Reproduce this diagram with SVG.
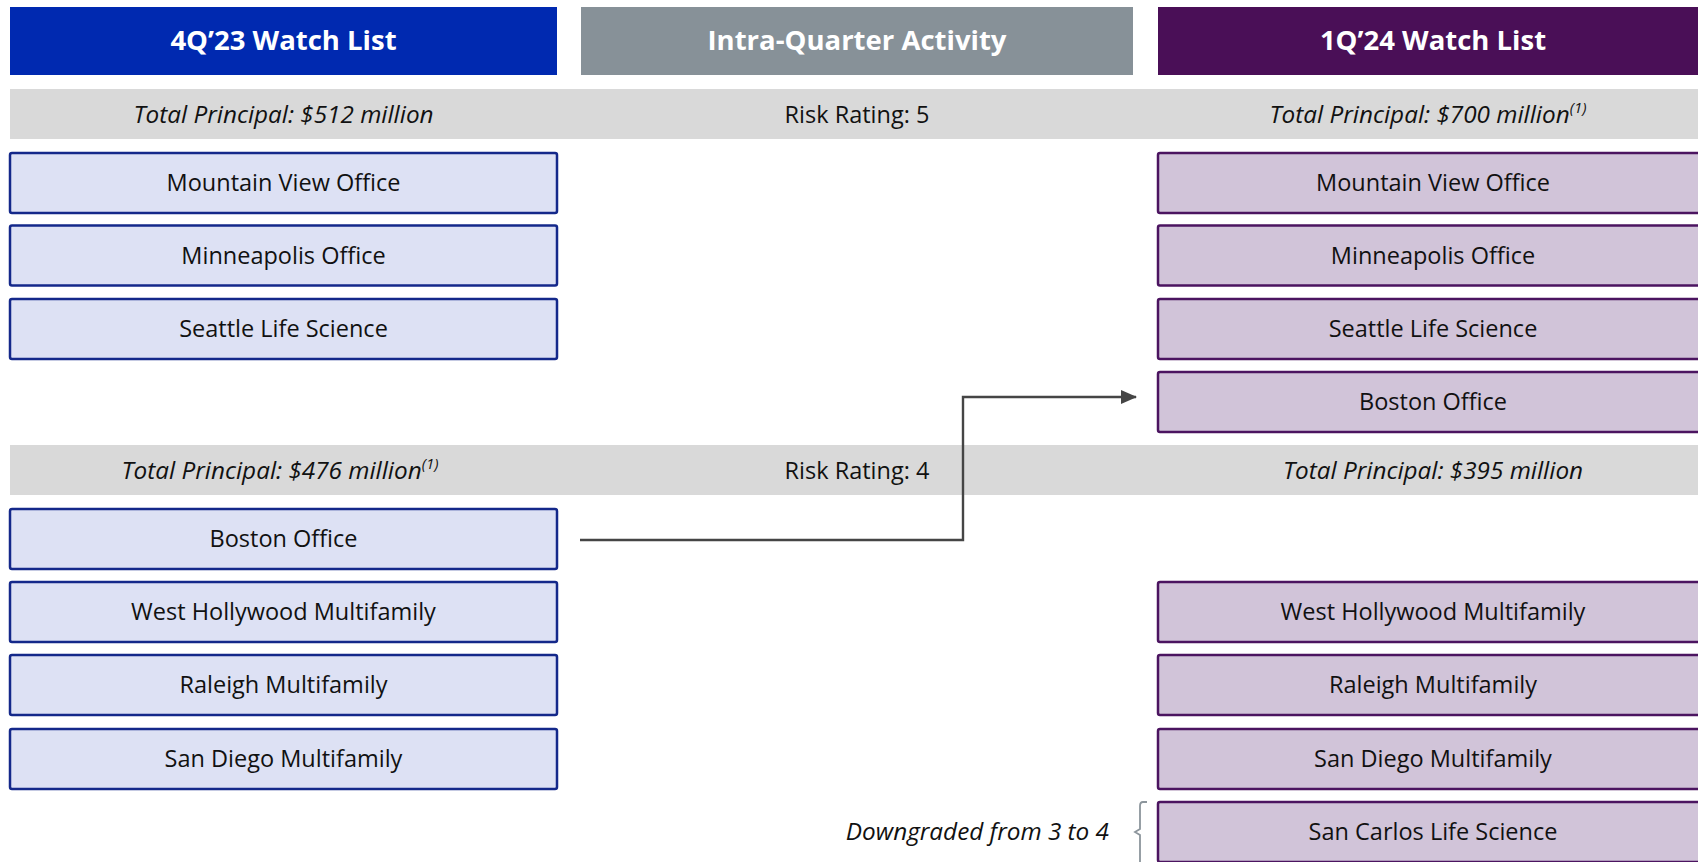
<svg xmlns="http://www.w3.org/2000/svg" width="1698" height="862" viewBox="0 0 1698 862">
<style>
.hdr{font-family:"Open Sans","Liberation Sans",sans-serif;font-weight:bold;font-size:27.5px;fill:#ffffff;text-anchor:middle}
.band{fill:#d9d9d9}
.bt{font-family:"Open Sans","Liberation Sans",sans-serif;font-size:23.5px;fill:#111;text-anchor:middle}
.it{font-style:italic;font-size:24.3px}
.sup{font-size:15px}
.lb{fill:#dde1f4;stroke:#14288a;stroke-width:2.5}
.rb{fill:#d1c4d9;stroke:#4b1460;stroke-width:2.5}
.conn{fill:none;stroke:#454545;stroke-width:2.4}
</style>
<defs>
<marker id="arr" markerWidth="16" markerHeight="14" refX="15" refY="7" orient="auto" markerUnits="userSpaceOnUse" viewBox="0 0 16 14">
<path d="M0,0 L16,7 L0,14 z" fill="#454545"/>
</marker>
</defs>
<rect width="1698" height="862" fill="#ffffff"/>
<g id="header-4q23"><rect x="10" y="7" width="547" height="68" fill="#0029b0"/><text class="hdr" x="283.5" y="50">4Q’23 Watch List</text></g>
<g id="header-intra"><rect x="581" y="7" width="552" height="68" fill="#879198"/><text class="hdr" x="857" y="50">Intra-Quarter Activity</text></g>
<g id="header-1q24"><rect x="1158" y="7" width="550" height="68" fill="#4a0f57"/><text class="hdr" x="1433" y="50">1Q’24 Watch List</text></g>
<g id="band-rr5"><rect class="band" x="10" y="89" width="1698" height="50"/>
<text class="bt it" x="283.5" y="123">Total Principal: $512 million</text>
<text class="bt" x="857" y="123">Risk Rating: 5</text>
<text class="bt it" x="1428" y="123">Total Principal: $700 million<tspan class="sup" dy="-10">(1)</tspan></text></g>
<g id="band-rr4"><rect class="band" x="10" y="445" width="1698" height="50"/>
<text class="bt it" x="280" y="479">Total Principal: $476 million<tspan class="sup" dy="-10">(1)</tspan></text>
<text class="bt" x="857" y="479">Risk Rating: 4</text>
<text class="bt it" x="1433" y="479">Total Principal: $395 million</text></g>
<g id="l-mountain-view"><rect class="lb" x="10" y="153" width="547" height="60" rx="2"/><text class="bt" x="283.5" y="191">Mountain View Office</text></g>
<g id="l-minneapolis"><rect class="lb" x="10" y="225.5" width="547" height="60" rx="2"/><text class="bt" x="283.5" y="263.5">Minneapolis Office</text></g>
<g id="l-seattle"><rect class="lb" x="10" y="299" width="547" height="60" rx="2"/><text class="bt" x="283.5" y="337">Seattle Life Science</text></g>
<g id="l-boston"><rect class="lb" x="10" y="509" width="547" height="60" rx="2"/><text class="bt" x="283.5" y="547">Boston Office</text></g>
<g id="l-west-hollywood"><rect class="lb" x="10" y="582" width="547" height="60" rx="2"/><text class="bt" x="283.5" y="620">West Hollywood Multifamily</text></g>
<g id="l-raleigh"><rect class="lb" x="10" y="655" width="547" height="60" rx="2"/><text class="bt" x="283.5" y="693">Raleigh Multifamily</text></g>
<g id="l-san-diego"><rect class="lb" x="10" y="729" width="547" height="60" rx="2"/><text class="bt" x="283.5" y="767">San Diego Multifamily</text></g>
<g id="r-mountain-view"><rect class="rb" x="1158" y="153" width="550" height="60" rx="2"/><text class="bt" x="1433" y="191">Mountain View Office</text></g>
<g id="r-minneapolis"><rect class="rb" x="1158" y="225.5" width="550" height="60" rx="2"/><text class="bt" x="1433" y="263.5">Minneapolis Office</text></g>
<g id="r-seattle"><rect class="rb" x="1158" y="299" width="550" height="60" rx="2"/><text class="bt" x="1433" y="337">Seattle Life Science</text></g>
<g id="r-boston"><rect class="rb" x="1158" y="372" width="550" height="60" rx="2"/><text class="bt" x="1433" y="410">Boston Office</text></g>
<g id="r-west-hollywood"><rect class="rb" x="1158" y="582" width="550" height="60" rx="2"/><text class="bt" x="1433" y="620">West Hollywood Multifamily</text></g>
<g id="r-raleigh"><rect class="rb" x="1158" y="655" width="550" height="60" rx="2"/><text class="bt" x="1433" y="693">Raleigh Multifamily</text></g>
<g id="r-san-diego"><rect class="rb" x="1158" y="729" width="550" height="60" rx="2"/><text class="bt" x="1433" y="767">San Diego Multifamily</text></g>
<g id="r-san-carlos"><rect class="rb" x="1158" y="802" width="550" height="60" rx="2"/><text class="bt" x="1433" y="840">San Carlos Life Science</text></g>
<g id="note-downgraded">
<path d="M1147,802 L1143,802 Q1140,802 1140,806 L1140,829 L1135,832 L1140,835 L1140,862" fill="none" stroke="#8c959c" stroke-width="1.8"/>
<text class="bt it" x="1109" y="840" style="text-anchor:end">Downgraded from 3 to 4</text>
</g>
<g id="connectors">
<path class="conn" d="M580,540 L963,540 L963,397 L1136,397" marker-end="url(#arr)"/>
</g>
</svg>
